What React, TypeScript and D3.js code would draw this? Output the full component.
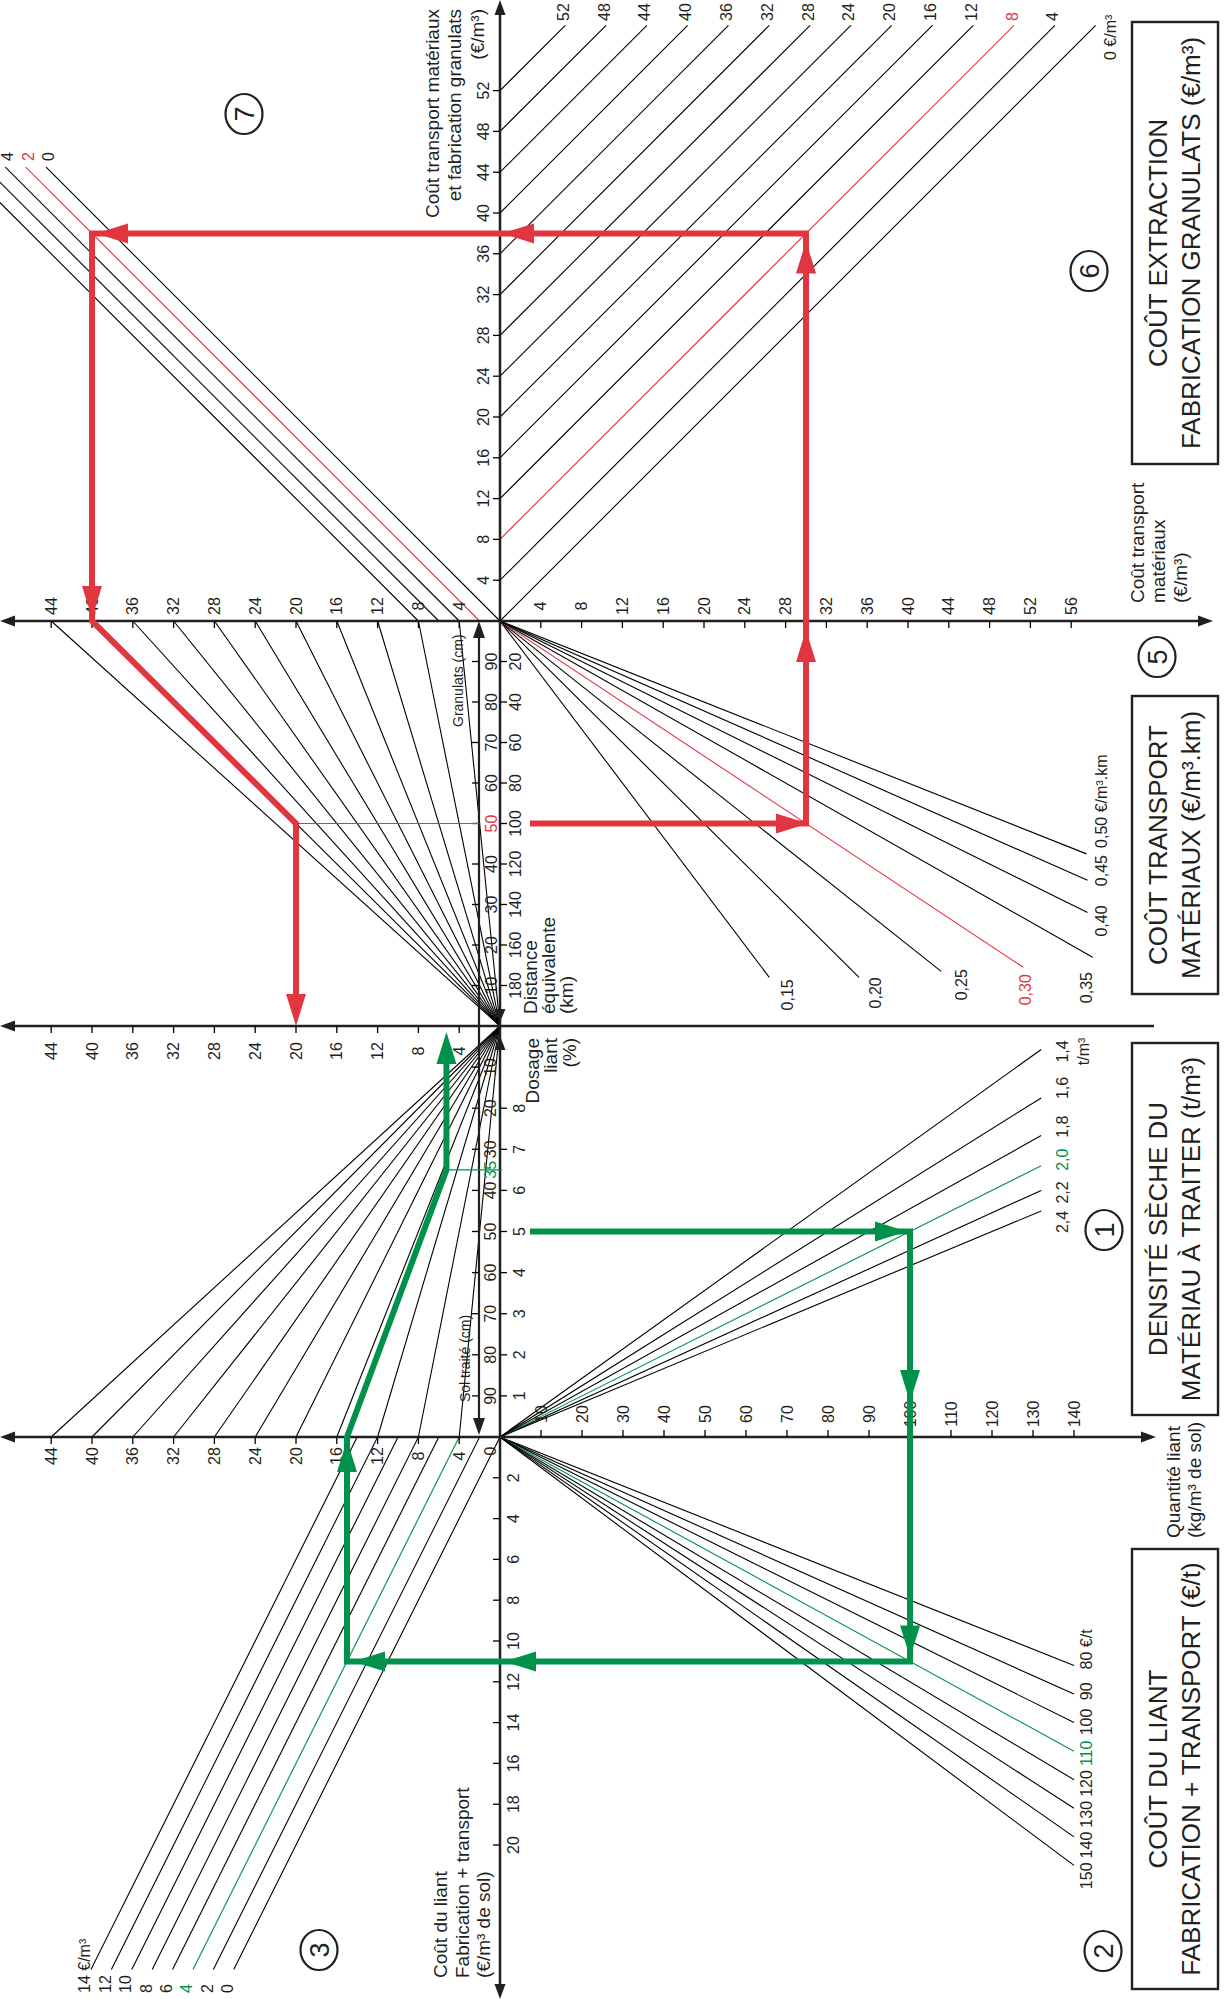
import React from "react";
import * as d3 from "d3";

// ---------- values ----------
const TOTAL_TICKS = [4, 8, 12, 16, 20, 24, 28, 32, 36, 40, 44, 48, 52];
const TRANSPORT_COST_TICKS = [4, 8, 12, 16, 20, 24, 28, 32, 36, 40, 44, 48, 52, 56];
const LEFT_COST_TICKS = [4, 8, 12, 16, 20, 24, 28, 32, 36, 40, 44];
const EXTRACTION_COSTS = [0, 4, 8, 12, 16, 20, 24, 28, 32, 36, 40, 44, 48, 52];
const GRANULAT_EXTRAS = [0, 2, 4, 6, 8];
const TRANSPORT_RATES = [0.15, 0.2, 0.25, 0.3, 0.35, 0.4, 0.45, 0.5];
const RATE_END_KM = [176, 176, 173, 171, 166, 144, 128, 115];
const DISTANCE_TICKS = [20, 40, 60, 80, 100, 120, 140, 160, 180];
const GRANULAT_TICKS = [10, 20, 30, 40, 50, 60, 70, 80, 90];
const FAN_COSTS = [4, 8, 12, 16, 20, 24, 28, 32, 36, 40, 44];
const SOIL_TICKS = [10, 20, 30, 40, 50, 60, 70, 80, 90];
const DOSAGE_TICKS = [1, 2, 3, 4, 5, 6, 7, 8];
const DENSITIES = [2.4, 2.2, 2.0, 1.8, 1.6, 1.4];
const QUANTITY_TICKS = [10, 20, 30, 40, 50, 60, 70, 80, 90, 100, 110, 120, 130, 140];
const BINDER_PRICES = [80, 90, 100, 110, 120, 130, 140, 150];
const BINDER_COST_TICKS = [2, 4, 6, 8, 10, 12, 14, 16, 18, 20];
const BINDER_EXTRAS = [0, 2, 4, 6, 8, 10, 12, 14];

// worked examples
const RED_CASE = { distance: 100, rate: 0.3, extraction: 8, extra: 2, granulats: 50 };
const GREEN_CASE = { dosage: 5, density: 2.0, price: 110, extra: 4, soil: 35 };

// ---------- layout ----------
const W = 1224;
const H = 1999;
const OX = 500; // main vertical axis
const YA = 621; // upper horizontal axis
const YB = 1026; // middle horizontal axis
const YC = 1437; // lower horizontal axis
const UNIT = 10.2; // px per €/m³ on cost axes
const SUB_X = 479; // secondary (granulats / sol traité) axis

const INK = "#231f20";
const LINE = "#000";
const RED = "#e1363f";
const GREEN = "#00924a";
const FONT = "'Liberation Sans', Arial, Helvetica, sans-serif";

const fr = d3.formatLocale({ decimal: ",", thousands: " ", grouping: [3], currency: ["", " €"] });
const f2 = fr.format(".2f");
const f1 = fr.format(".1f");

const xCostR = d3.scaleLinear().domain([0, 1]).range([OX, OX + UNIT]);
const xCostL = d3.scaleLinear().domain([0, 1]).range([OX, OX - UNIT]);
const yTotal = d3.scaleLinear().domain([0, 1]).range([YA, YA - UNIT]);
const yDist = d3.scaleLinear().domain([0, 200]).range([YA, YB]);
const yGran = d3.scaleLinear().domain([0, 100]).range([YB, YA]);
const ySoil = d3.scaleLinear().domain([0, 100]).range([YB, YC]);
const yDos = d3.scaleLinear().domain([0, 10]).range([YC, YB]);
const xQty = d3.scaleLinear().domain([0, 140]).range([OX, OX + 574]);
const yBind = d3.scaleLinear().domain([0, 20]).range([YC, YC + 408]);

const TOTAL_TOP = 58.4; // where the extraction lines stop
const EXTRA_TOP = 44.5; // where the granulat extra lines stop
const DENSITY_END_QTY = 132;
const PRICE_END_QTY = 140;
const BINDER_BOTTOM = 26.1;

type Dir = "up" | "down" | "left" | "right";
function Arrow({ x, y, dir, len, hw, fill }: { x: number; y: number; dir: Dir; len: number; hw: number; fill: string }) {
  let pts: number[][];
  if (dir === "up") pts = [[x, y], [x - hw, y + len], [x + hw, y + len]];
  else if (dir === "down") pts = [[x, y], [x - hw, y - len], [x + hw, y - len]];
  else if (dir === "left") pts = [[x, y], [x + len, y - hw], [x + len, y + hw]];
  else pts = [[x, y], [x - len, y - hw], [x - len, y + hw]];
  return <polygon points={pts.map((p) => p.join(",")).join(" ")} fill={fill} />;
}

function RText({ x, y, anchor = "middle", size = 16, fill = INK, children }: any) {
  return (
    <text
      transform={`translate(${x},${y}) rotate(-90)`}
      textAnchor={anchor}
      dominantBaseline="central"
      fontSize={size}
      fill={fill}
    >
      {children}
    </text>
  );
}

function Ln({ x1, y1, x2, y2, stroke = LINE, w = 1.1 }: any) {
  return <line x1={x1} y1={y1} x2={x2} y2={y2} stroke={stroke} strokeWidth={w} />;
}

function Circled({ x, y, n }: { x: number; y: number; n: string }) {
  return (
    <g>
      <ellipse cx={x} cy={y} rx={18.5} ry={20} fill="none" stroke={INK} strokeWidth={2.2} />
      <RText x={x + 1} y={y} size={27}>{n}</RText>
    </g>
  );
}

function TitleBox({ y0, y1, lines }: { y0: number; y1: number; lines: string[] }) {
  const cy = (y0 + y1) / 2;
  return (
    <g>
      <rect x={1132} y={y0} width={86} height={y1 - y0} fill="none" stroke={INK} strokeWidth={2.4} />
      <RText x={1158} y={cy} size={26}>{lines[0]}</RText>
      <RText x={1191} y={cy} size={26}>{lines[1]}</RText>
    </g>
  );
}

export default function App() {
  // red example
  const transport = RED_CASE.distance * RED_CASE.rate;
  const total = transport + RED_CASE.extraction;
  const withExtra = total + RED_CASE.extra;
  const perArea = (withExtra * RED_CASE.granulats) / 100;
  const r0: [number, number] = [OX + 30, yDist(RED_CASE.distance)];
  const r1: [number, number] = [xCostR(transport), yDist(RED_CASE.distance)];
  const r2: [number, number] = [xCostR(transport), yTotal(total)];
  const r3: [number, number] = [xCostL(withExtra), yTotal(total)];
  const r4: [number, number] = [xCostL(withExtra), YA];
  const r5: [number, number] = [xCostL(perArea), yGran(RED_CASE.granulats)];
  const r6: [number, number] = [xCostL(perArea), YB - 16];

  // green example
  const qty = 10 * GREEN_CASE.dosage * GREEN_CASE.density;
  const binderCost = (qty * GREEN_CASE.price) / 1000;
  const soilCost = binderCost + GREEN_CASE.extra;
  const areaCost = (soilCost * GREEN_CASE.soil) / 100;
  const g0: [number, number] = [OX + 30, yDos(GREEN_CASE.dosage)];
  const g1: [number, number] = [xQty(qty), yDos(GREEN_CASE.dosage)];
  const g2: [number, number] = [xQty(qty), yBind(binderCost)];
  const g3: [number, number] = [xCostL(soilCost), yBind(binderCost)];
  const g4: [number, number] = [xCostL(soilCost), YC];
  const g5: [number, number] = [xCostL(areaCost), ySoil(GREEN_CASE.soil)];
  const g6: [number, number] = [xCostL(areaCost), YB + 20];

  const line = d3.line();

  const rateLabelNudge = [
    [18, 33], [16, 31], [20, 29], [2, 38], [-6, 46], [14, 24], [14, 6], [15, -6],
  ];
  const densityLabelNudge = [11, 2, -6, -9, -10, 2];

  return (
    <svg
      width={W}
      height={H}
      viewBox={`0 0 ${W} ${H}`}
      style={{ position: "absolute", left: 0, top: 0, background: "#fff", fontFamily: FONT }}
    >
      <rect width={W} height={H} fill="#fff" />

      {/* ---- panel 6: extraction cost lines ---- */}
      {EXTRACTION_COSTS.map((c) => {
        const sel = c === RED_CASE.extraction;
        const ex = xCostR(TOTAL_TOP - c);
        return (
          <g key={"e" + c}>
            <Ln x1={OX} y1={yTotal(c)} x2={ex} y2={yTotal(TOTAL_TOP)} stroke={sel ? RED : LINE} />
            {c === 0 ? (
              <RText x={ex + 15} y={60} anchor="start" fill={INK}>0 €/m³</RText>
            ) : (
              <RText x={ex - 2} y={21} anchor="start" fill={sel ? RED : INK}>{c}</RText>
            )}
          </g>
        );
      })}

      {/* ---- panel 7: extra cost lines ---- */}
      {GRANULAT_EXTRAS.map((k) => {
        const sel = k === RED_CASE.extra;
        const tx = xCostL(EXTRA_TOP + k);
        return (
          <g key={"k" + k}>
            <Ln x1={xCostL(k)} y1={YA} x2={tx} y2={yTotal(EXTRA_TOP)} stroke={sel ? RED : LINE} />
            {tx > 0 && (
              <RText x={tx + 2.5} y={yTotal(EXTRA_TOP) - 6} anchor="start" fill={sel ? RED : INK}>{k}</RText>
            )}
          </g>
        );
      })}

      {/* ---- panel 5: transport rate rays ---- */}
      {TRANSPORT_RATES.map((r, i) => {
        const sel = Math.abs(r - RED_CASE.rate) < 1e-9;
        const e = RATE_END_KM[i];
        const ex = xCostR(r * e);
        const ey = yDist(e);
        const [dx, dy] = rateLabelNudge[i];
        return (
          <g key={"r" + r}>
            <Ln x1={OX} y1={YA} x2={ex} y2={ey} stroke={sel ? RED : LINE} />
            <RText x={ex + dx} y={ey + dy} anchor="start" fill={sel ? RED : INK}>
              {i === TRANSPORT_RATES.length - 1 ? `${f2(r)} €/m³.km` : f2(r)}
            </RText>
          </g>
        );
      })}

      {/* ---- panel 4: granulat thickness fan ---- */}
      {FAN_COSTS.map((v) => (
        <Ln key={"fa" + v} x1={OX} y1={YB} x2={xCostL(v)} y2={yGran(100)} />
      ))}

      {/* ---- sol traité fan ---- */}
      {FAN_COSTS.map((v) => (
        <Ln key={"fs" + v} x1={OX} y1={YB} x2={xCostL(v)} y2={ySoil(100)} />
      ))}

      {/* ---- panel 1: density rays ---- */}
      {DENSITIES.map((rho, i) => {
        const sel = Math.abs(rho - GREEN_CASE.density) < 1e-9;
        const ex = xQty(DENSITY_END_QTY);
        const ey = yDos(DENSITY_END_QTY / (10 * rho));
        return (
          <g key={"d" + rho}>
            <Ln x1={OX} y1={YC} x2={ex} y2={ey} stroke={sel ? GREEN : LINE} />
            <RText x={ex + 21} y={ey + densityLabelNudge[i]} fill={sel ? GREEN : INK}>{f1(rho)}</RText>
            {i === DENSITIES.length - 1 && (
              <RText x={ex + 42} y={ey + densityLabelNudge[i]} fill={INK}>t/m³</RText>
            )}
          </g>
        );
      })}

      {/* ---- panel 2: binder price rays ---- */}
      {BINDER_PRICES.map((p, i) => {
        const sel = p === GREEN_CASE.price;
        const ex = xQty(PRICE_END_QTY);
        const ey = yBind((PRICE_END_QTY * p) / 1000);
        const c = ey - 5 + 2.2 * i;
        const half = String(p).length * 4.45;
        return (
          <g key={"p" + p}>
            <Ln x1={OX} y1={YC} x2={ex} y2={ey} stroke={sel ? GREEN : LINE} />
            <RText x={ex + 12} y={c + half} anchor="start" fill={sel ? GREEN : INK}>
              {i === 0 ? `${p} €/t` : p}
            </RText>
          </g>
        );
      })}

      {/* ---- panel 3: binder extra cost lines ---- */}
      {BINDER_EXTRAS.map((k) => {
        const sel = k === GREEN_CASE.extra;
        const bx = xCostL(k + BINDER_BOTTOM);
        return (
          <g key={"b" + k}>
            <Ln x1={xCostL(k)} y1={YC} x2={bx} y2={yBind(BINDER_BOTTOM)} stroke={sel ? GREEN : LINE} />
            <RText x={bx - 6} y={1993} anchor="start" fill={sel ? GREEN : INK}>
              {k === BINDER_EXTRAS[BINDER_EXTRAS.length - 1] ? `${k} €/m³` : k}
            </RText>
          </g>
        );
      })}

      {/* ---- axes ---- */}
      <Ln x1={OX} y1={8} x2={OX} y2={H - 8} w={2.5} stroke={INK} />
      <Arrow x={OX} y={0} dir="up" len={15} hw={5.5} fill={INK} />
      <Arrow x={OX} y={H} dir="down" len={15} hw={5.5} fill={INK} />
      <Arrow x={OX} y={YB - 4} dir="down" len={13} hw={5.5} fill={INK} />
      <Arrow x={OX} y={YB + 10} dir="up" len={14} hw={5.5} fill={INK} />

      <Ln x1={8} y1={YA} x2={1205} y2={YA} w={2.5} stroke={INK} />
      <Arrow x={0} y={YA} dir="left" len={15} hw={5.5} fill={INK} />
      <Arrow x={1213} y={YA} dir="right" len={15} hw={5.5} fill={INK} />

      <Ln x1={8} y1={YB} x2={1154} y2={YB} w={2.5} stroke={INK} />
      <Arrow x={0} y={YB} dir="left" len={15} hw={5.5} fill={INK} />

      <Ln x1={8} y1={YC} x2={1148} y2={YC} w={2.5} stroke={INK} />
      <Arrow x={0} y={YC} dir="left" len={15} hw={5.5} fill={INK} />
      <Arrow x={1156} y={YC} dir="right" len={15} hw={5.5} fill={INK} />

      <Ln x1={SUB_X} y1={YA + 10} x2={SUB_X} y2={YC - 10} w={2.2} stroke={INK} />
      <Arrow x={SUB_X} y={YA} dir="up" len={17} hw={6} fill={INK} />
      <Arrow x={SUB_X} y={YC - 2} dir="down" len={17} hw={6} fill={INK} />

      {/* top total-cost axis */}
      {TOTAL_TICKS.map((v) => (
        <g key={"tt" + v}>
          <Ln x1={OX - 7} y1={yTotal(v)} x2={OX} y2={yTotal(v)} w={1.3} />
          <RText x={483} y={yTotal(v)}>{v}</RText>
        </g>
      ))}
      {TRANSPORT_COST_TICKS.map((v) => (
        <g key={"tr" + v}>
          <Ln x1={xCostR(v)} y1={YA} x2={xCostR(v)} y2={YA + 7} w={1.3} />
          <RText x={xCostR(v)} y={606}>{v}</RText>
        </g>
      ))}
      {LEFT_COST_TICKS.map((v) => (
        <g key={"la" + v}>
          <Ln x1={xCostL(v)} y1={YA} x2={xCostL(v)} y2={YA + 7} w={1.3} />
          <RText x={xCostL(v)} y={606}>{v}</RText>
          <Ln x1={xCostL(v)} y1={YB} x2={xCostL(v)} y2={YB + 7} w={1.3} />
          <RText x={xCostL(v)} y={1051}>{v}</RText>
          <Ln x1={xCostL(v)} y1={YC} x2={xCostL(v)} y2={YC + 7} w={1.3} />
          <RText x={xCostL(v)} y={1456}>{v}</RText>
        </g>
      ))}
      <RText x={490} y={1451}>0</RText>

      {DISTANCE_TICKS.map((d) => (
        <g key={"di" + d}>
          <Ln x1={OX} y1={yDist(d)} x2={OX + 7} y2={yDist(d)} w={1.3} />
          <RText x={515} y={yDist(d)}>{d}</RText>
        </g>
      ))}
      {GRANULAT_TICKS.map((g) => (
        <g key={"gr" + g}>
          <Ln x1={SUB_X - 7} y1={yGran(g)} x2={SUB_X} y2={yGran(g)} w={1.3} />
          <RText x={491} y={yGran(g)} fill={g === RED_CASE.granulats ? RED : INK}>{g}</RText>
        </g>
      ))}
      {SOIL_TICKS.map((s) => (
        <g key={"so" + s}>
          <Ln x1={SUB_X - 7} y1={ySoil(s)} x2={SUB_X} y2={ySoil(s)} w={1.3} />
          <RText x={490} y={ySoil(s)}>{s}</RText>
        </g>
      ))}
      <RText x={490} y={ySoil(GREEN_CASE.soil)} fill={GREEN}>{GREEN_CASE.soil}</RText>
      {DOSAGE_TICKS.map((p) => (
        <g key={"do" + p}>
          <Ln x1={OX} y1={yDos(p)} x2={OX + 7} y2={yDos(p)} w={1.3} />
          <RText x={519} y={yDos(p)}>{p}</RText>
        </g>
      ))}
      {QUANTITY_TICKS.map((q) => (
        <g key={"qu" + q}>
          <Ln x1={xQty(q)} y1={YC - 7} x2={xQty(q)} y2={YC} w={1.3} />
          <RText x={xQty(q)} y={1414}>{q}</RText>
        </g>
      ))}
      {BINDER_COST_TICKS.map((u) => (
        <g key={"bc" + u}>
          <Ln x1={OX - 7} y1={yBind(u)} x2={OX} y2={yBind(u)} w={1.3} />
          <RText x={513} y={yBind(u)}>{u}</RText>
        </g>
      ))}

      {/* ---- axis titles ---- */}
      <RText x={432} y={9} anchor="end" size={19}>Coût transport matériaux</RText>
      <RText x={454} y={9} anchor="end" size={19}>et fabrication granulats</RText>
      <RText x={477} y={9} anchor="end" size={19}>(€/m³)</RText>

      <RText x={1137} y={603} anchor="start" size={19}>Coût transport</RText>
      <RText x={1158} y={603} anchor="start" size={19}>matériaux</RText>
      <RText x={1180} y={603} anchor="start" size={19}>(€/m³)</RText>

      <RText x={530} y={1014} anchor="start" size={19}>Distance</RText>
      <RText x={548} y={1014} anchor="start" size={19}>équivalente</RText>
      <RText x={566} y={1014} anchor="start" size={19}>(km)</RText>

      <RText x={532} y={1038} anchor="end" size={19}>Dosage</RText>
      <RText x={550} y={1038} anchor="end" size={19}>liant</RText>
      <RText x={569} y={1038} anchor="end" size={19}>(%)</RText>

      <RText x={458} y={727} anchor="start" size={14}>Granulats (cm)</RText>
      <RText x={465} y={1402} anchor="start" size={14}>Sol traité (cm)</RText>

      <RText x={440} y={1978} anchor="start" size={19}>Coût du liant</RText>
      <RText x={462} y={1978} anchor="start" size={19}>Fabrication + transport</RText>
      <RText x={483} y={1978} anchor="start" size={19}>(€/m³ de sol)</RText>

      <RText x={1173} y={1538} anchor="start" size={19}>Quantité liant</RText>
      <RText x={1194} y={1538} anchor="start" size={19}>(kg/m³ de sol)</RText>

      {/* ---- boxed panel titles ---- */}
      <TitleBox y0={22} y1={464} lines={["COÛT EXTRACTION", "FABRICATION GRANULATS  (€/m³)"]} />
      <TitleBox y0={696} y1={994} lines={["COÛT TRANSPORT", "MATÉRIAUX (€/m³.km)"]} />
      <TitleBox y0={1043} y1={1415} lines={["DENSITÉ SÈCHE DU", "MATÉRIAU À TRAITER (t/m³)"]} />
      <TitleBox y0={1549} y1={1989} lines={["COÛT DU LIANT", "FABRICATION + TRANSPORT (€/t)"]} />

      <Circled x={1104} y={1230} n="1" />
      <Circled x={1103} y={1951} n="2" />
      <Circled x={319} y={1950} n="3" />
      <Circled x={1157} y={657} n="5" />
      <Circled x={1089} y={271} n="6" />
      <Circled x={244} y={114} n="7" />

      {/* ---- red worked example ---- */}
      <line x1={r5[0]} y1={r5[1]} x2={SUB_X} y2={r5[1]} stroke={RED} strokeWidth={1.2} />
      <path
        d={line([r0, r1, r2, r3, r4, r5, r6]) || ""}
        fill="none"
        stroke={RED}
        strokeWidth={6}
        strokeLinejoin="miter"
      />
      <Arrow x={r1[0] + 2} y={r1[1]} dir="right" len={32} hw={10} fill={RED} />
      <Arrow x={r1[0]} y={YA + 9} dir="up" len={32} hw={10} fill={RED} />
      <Arrow x={r2[0]} y={r2[1] + 8} dir="up" len={32} hw={10} fill={RED} />
      <Arrow x={OX + 2} y={r2[1]} dir="left" len={32} hw={10} fill={RED} />
      <Arrow x={r3[0] + 4} y={r3[1]} dir="left" len={32} hw={10} fill={RED} />
      <Arrow x={r4[0]} y={YA - 3} dir="down" len={32} hw={10} fill={RED} />
      <Arrow x={r6[0]} y={YB} dir="down" len={32} hw={10} fill={RED} />

      {/* ---- green worked example ---- */}
      <line x1={g5[0]} y1={g5[1]} x2={OX + 2} y2={g5[1]} stroke={GREEN} strokeWidth={1.2} />
      <path
        d={line([g0, g1, g2, g3, g4, g5, g6]) || ""}
        fill="none"
        stroke={GREEN}
        strokeWidth={6}
        strokeLinejoin="miter"
      />
      <Arrow x={g1[0] - 3} y={g1[1]} dir="right" len={32} hw={10} fill={GREEN} />
      <Arrow x={g1[0]} y={YC - 35} dir="down" len={32} hw={10} fill={GREEN} />
      <Arrow x={g2[0]} y={g2[1] - 4} dir="down" len={32} hw={10} fill={GREEN} />
      <Arrow x={OX + 4} y={g2[1]} dir="left" len={32} hw={10} fill={GREEN} />
      <Arrow x={g3[0] + 6} y={g3[1]} dir="left" len={32} hw={10} fill={GREEN} />
      <Arrow x={g4[0]} y={YC + 3} dir="up" len={32} hw={10} fill={GREEN} />
      <Arrow x={g6[0]} y={YB + 6} dir="up" len={32} hw={10} fill={GREEN} />
    </svg>
  );
}
